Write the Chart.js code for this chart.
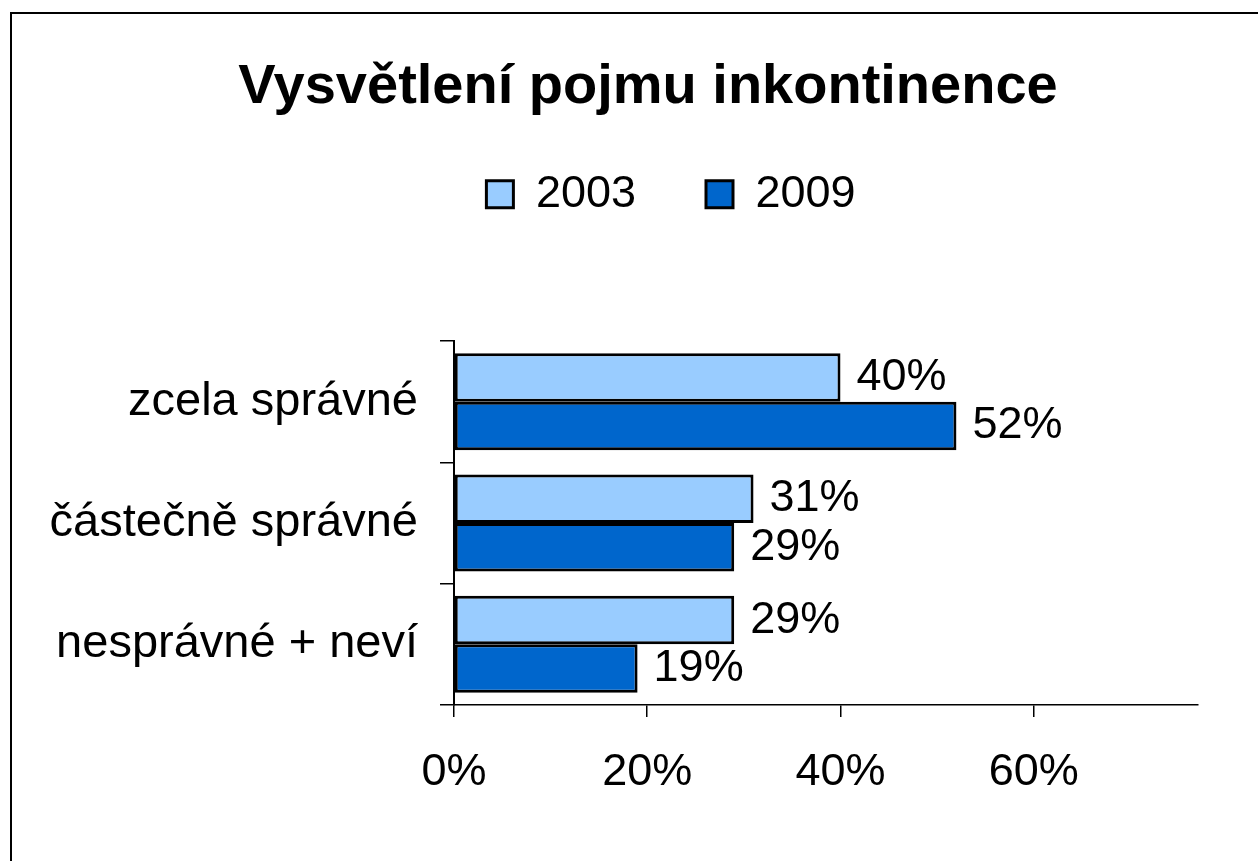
<!DOCTYPE html>
<html>
<head>
<meta charset="utf-8">
<script src="https://cdn.jsdelivr.net/npm/chart.js@4"></script>
<style>
  html, body { margin: 0; padding: 0; background: #fff; overflow: hidden; }
  #frame { position: absolute; left: 10px; top: 12px; width: 1300px; height: 900px; border: 2px solid #000; }
  #wrap { position: absolute; left: 0; top: 0; width: 1258px; height: 861px; }
</style>
</head>
<body>
<div id="frame"></div>
<div id="wrap"><canvas id="chart"></canvas></div>
<script>
// values
const categories = ['zcela správné', 'částečně správné', 'nesprávné + neví'];
const years = ['2003', '2009'];
const values2003 = [40, 31, 29];
const values2009 = [52, 29, 19];
const xTicks = [0, 20, 40, 60];

const FONT = "'Liberation Sans', Arial, sans-serif";
Chart.defaults.font.family = FONT;
Chart.defaults.color = '#000';

// percent labels at the end of each bar
const barLabels = {
    id: 'barLabels',
    afterDatasetsDraw(chart) {
        const ctx = chart.ctx;
        ctx.save();
        ctx.font = '45px ' + FONT;
        ctx.fillStyle = '#000';
        ctx.textAlign = 'left';
        ctx.textBaseline = 'middle';
        chart.data.datasets.forEach((ds, i) => {
            chart.getDatasetMeta(i).data.forEach((bar, j) => {
                ctx.fillText(ds.data[j] + '%', bar.x + 16, bar.y);
            });
        });
        ctx.restore();
    }
};

// title and legend are centred further right than the full width in the original
const headerShift = {
    id: 'headerShift',
    afterLayout(chart) {
        chart.titleBlock.left += 49;
        chart.titleBlock.right += 49;
        chart.legend.left += 72;
        chart.legend.right += 72;
    }
};

new Chart(document.getElementById('chart'), {
    type: 'bar',
    data: {
        labels: categories,
        datasets: [
            {
                label: years[0],
                data: values2003,
                backgroundColor: '#99CCFF',
                borderColor: '#000',
                borderWidth: 3,
                borderSkipped: false,
                categoryPercentage: 0.8,
                barPercentage: 1.0
            },
            {
                label: years[1],
                data: values2009,
                backgroundColor: '#0066CC',
                borderColor: '#000',
                borderWidth: 3,
                borderSkipped: false,
                categoryPercentage: 0.8,
                barPercentage: 1.0
            }
        ]
    },
    options: {
        indexAxis: 'y',
        responsive: true,
        maintainAspectRatio: false,
        animation: false,
        layout: { padding: { left: 0, right: 60, top: 0, bottom: 0 } },
        scales: {
            x: {
                min: 0,
                max: 77,
                afterBuildTicks(s) { s.ticks = s.ticks.filter(t => xTicks.includes(t.value)); },
                afterFit(s) { s.height = 156; },
                ticks: {
                    stepSize: 20,
                    padding: 29,
                    font: { size: 45 },
                    callback: v => v + '%'
                },
                grid: { drawOnChartArea: false, tickLength: 12, color: '#000', lineWidth: 1.5 },
                border: { color: '#000', width: 1.5 }
            },
            spacer: {
                type: 'linear',
                position: 'top',
                display: true,
                afterFit(s) { s.height = 114.5; },
                ticks: { display: false },
                grid: { display: false },
                border: { display: false }
            },
            y: {
                afterFit(s) { s.width = 454; },
                ticks: { padding: 22, font: { size: 47 } },
                grid: { drawOnChartArea: false, offset: true, tickLength: 14, color: '#000', lineWidth: 1.5 },
                border: { color: '#000', width: 2 }
            }
        },
        plugins: {
            title: {
                display: true,
                text: 'Vysvětlení pojmu inkontinence',
                color: '#000',
                font: { size: 56, weight: 'bold' },
                padding: { top: 54, bottom: -19.5 }
            },
            legend: {
                position: 'top',
                labels: {
                    boxWidth: 27,
                    boxHeight: 27,
                    padding: 70,
                    font: { size: 45 },
                    color: '#000'
                }
            },
            tooltip: { enabled: false }
        }
    },
    plugins: [barLabels, headerShift]
});
</script>
</body>
</html>
